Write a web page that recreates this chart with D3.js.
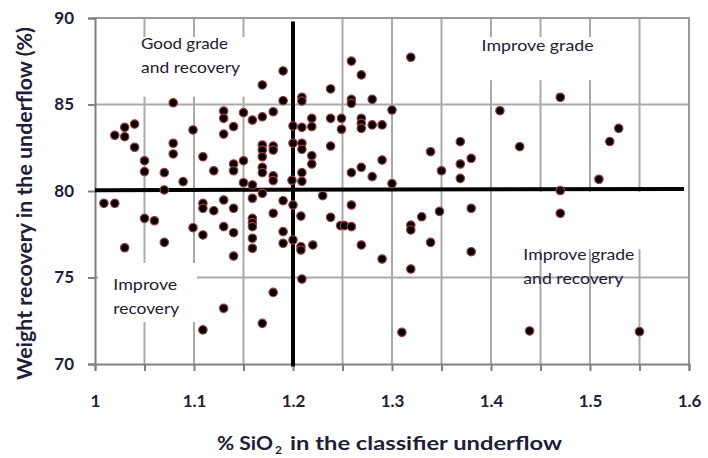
<!DOCTYPE html>
<html>
<head>
<meta charset="utf-8">
<script src="https://cdn.jsdelivr.net/npm/d3@7"></script>
<style>
  html, body { margin: 0; padding: 0; background: #fff; }
  svg { display: block; }
</style>
</head>
<body>
<div id="chart"></div>
<script>
// Scatter of weight recovery vs SiO2 in the classifier underflow, split in four quadrants

// % SiO2 in the underflow
const sio2 = [
  1.169, 1.079, 1.130, 1.130, 1.150, 1.159, 1.169, 1.040, 1.030, 1.020,
  1.030, 1.099, 1.140, 1.130, 1.040, 1.079, 1.079, 1.109, 1.050, 1.050,
  1.070, 1.120, 1.140, 1.140, 1.150, 1.169, 1.169, 1.169, 1.169, 1.169,
  1.089, 1.150, 1.159, 1.070, 1.190, 1.180, 1.190, 1.180, 1.180, 1.180,
  1.180, 1.200, 1.209, 1.200, 1.209, 1.209, 1.199, 1.209, 1.209, 1.209,
  1.209, 1.219, 1.219, 1.219, 1.219, 1.238, 1.238, 1.238, 1.249, 1.249,
  1.259, 1.259, 1.259, 1.269, 1.269, 1.269, 1.269, 1.280, 1.280, 1.290,
  1.259, 1.269, 1.280, 1.290, 1.300, 1.300, 1.319, 1.339, 1.350, 1.369,
  1.369, 1.380, 1.369, 1.409, 1.429, 1.470, 1.509, 1.520, 1.529, 1.470,
  1.470, 1.550, 1.009, 1.020, 1.050, 1.060, 1.030, 1.070, 1.109, 1.109,
  1.120, 1.130, 1.140, 1.169, 1.159, 1.099, 1.109, 1.130, 1.140, 1.159,
  1.159, 1.159, 1.159, 1.159, 1.140, 1.130, 1.109, 1.169, 1.180, 1.190,
  1.200, 1.208, 1.190, 1.190, 1.200, 1.208, 1.208, 1.220, 1.209, 1.180,
  1.230, 1.238, 1.248, 1.252, 1.259, 1.259, 1.269, 1.290, 1.319, 1.319,
  1.330, 1.339, 1.319, 1.348, 1.310, 1.380, 1.380, 1.439
];

// weight recovery in the underflow (%)
const recovery = [
  86.13, 85.10, 84.62, 84.20, 84.53, 84.10, 84.29, 83.87, 83.68, 83.22,
  83.14, 83.53, 83.72, 83.29, 82.53, 82.76, 82.14, 81.98, 81.75, 81.12,
  81.06, 81.17, 81.56, 81.17, 81.75, 82.66, 82.37, 81.98, 81.37, 81.06,
  80.54, 80.48, 80.35, 80.06, 86.94, 84.58, 85.22, 82.60, 82.37, 80.88,
  80.60, 83.76, 83.68, 82.76, 82.76, 82.41, 80.62, 81.06, 80.56, 85.42,
  85.20, 84.20, 83.72, 82.04, 81.56, 85.90, 84.20, 82.60, 84.20, 83.57,
  87.51, 85.30, 85.07, 86.71, 84.20, 83.91, 83.62, 85.30, 83.82, 83.82,
  81.06, 81.37, 80.83, 81.79, 84.68, 80.43, 87.73, 82.27, 81.17, 82.85,
  81.56, 81.89, 80.73, 84.64, 82.56, 85.42, 80.68, 82.86, 83.62, 80.03,
  78.71, 71.87, 79.29, 79.29, 78.42, 78.28, 76.72, 77.03, 79.29, 79.00,
  78.86, 79.48, 79.00, 79.87, 79.58, 77.88, 77.46, 77.94, 77.59, 78.42,
  78.17, 77.94, 77.27, 76.69, 76.24, 73.22, 71.97, 72.35, 78.71, 79.44,
  79.19, 78.55, 77.65, 76.98, 77.17, 76.78, 76.59, 76.88, 74.91, 74.14,
  79.73, 78.48, 78.00, 78.00, 79.19, 77.94, 76.88, 76.07, 78.03, 77.75,
  78.51, 77.03, 75.49, 78.82, 71.83, 79.00, 76.49, 71.91
];

// axis ticks
const xTicks = [1, 1.05, 1.1, 1.15, 1.2, 1.25, 1.3, 1.35, 1.4, 1.45, 1.5, 1.55, 1.6];
const xLabels = [1, 1.1, 1.2, 1.3, 1.4, 1.5, 1.6];
const yTicks = [70, 75, 80, 85, 90];
const xGrid = [1.05, 1.1, 1.15, 1.25, 1.3, 1.35, 1.4, 1.45, 1.5, 1.55];
const yGrid = [75, 85];

// the two thick dividing lines
const splitSio2 = 1.2;
const splitRecovery = [80.05, 80.12];

// quadrant notes
const notes = [
  { x: 1.0465, y: 88.2, lines: ['Good grade', 'and recovery'], widths: [87, 99] },
  { x: 1.3905, y: 88.1, lines: ['Improve grade'], widths: [112] },
  { x: 1.4327, y: 76.0, lines: ['Improve grade', 'and recovery'], widths: [111, 100] },
  { x: 1.0185, y: 74.25, lines: ['Improve', 'recovery'], widths: [64, 66] }
];
// white boxes behind the notes: [x0, y0, x1, y1] in data units
const noteBoxes = [
  [1.0051, 88.9, 1.1919, 85.45],
  [1.3636, 88.9, 1.5404, 86.41],
  [1.4172, 79.94, 1.5828, 76.64],
  [1.0031, 75.84, 1.1030, 72.43]
];

const width = 708;
const height = 458;

const x = d3.scaleLinear().domain([1, 1.6]).range([95, 689]);
const y = d3.scaleLinear().domain([70, 90]).range([364, 18]);

const svg = d3.select('#chart').append('svg')
  .attr('width', width)
  .attr('height', height);

const gridColor = '#a9a9a9';
const axisColor = '#808080';
const textColor = '#1e2038';

// gridlines
const grid = svg.append('g').attr('class', 'grid');

grid.selectAll('line.vgrid')
  .data(xGrid)
  .join('line')
  .attr('class', 'vgrid')
  .attr('x1', d => x(d)).attr('x2', d => x(d))
  .attr('y1', y(90)).attr('y2', y(70))
  .attr('stroke', gridColor)
  .attr('stroke-width', 2);

grid.selectAll('line.hgrid')
  .data(yGrid)
  .join('line')
  .attr('class', 'hgrid')
  .attr('x1', x(1)).attr('x2', x(1.6))
  .attr('y1', d => y(d)).attr('y2', d => y(d))
  .attr('stroke', gridColor)
  .attr('stroke-width', 2);

// frame: top and right
svg.append('path')
  .attr('d', `M${x(1)},${y(90)}H${x(1.6)}V${y(70)}`)
  .attr('fill', 'none')
  .attr('stroke', '#999')
  .attr('stroke-width', 2);

// white boxes that hide the grid behind the notes
svg.append('g')
  .selectAll('rect')
  .data(noteBoxes)
  .join('rect')
  .attr('x', d => x(d[0]))
  .attr('y', d => y(d[1]))
  .attr('width', d => x(d[2]) - x(d[0]))
  .attr('height', d => y(d[3]) - y(d[1]))
  .attr('fill', '#fff');

// axes
const xAxis = d3.axisBottom(x)
  .tickValues(xTicks)
  .tickSize(7)
  .tickPadding(24)
  .tickFormat(d => xLabels.some(v => Math.abs(v - d) < 1e-9) ? d3.format('')(+d.toFixed(1)) : '');

const gx = svg.append('g')
  .attr('transform', `translate(0,${y(70)})`)
  .call(xAxis);

const yAxis = d3.axisLeft(y)
  .tickValues(yTicks)
  .tickSize(7)
  .tickPadding(14)
  .tickFormat(d3.format('d'));

const gy = svg.append('g')
  .attr('transform', `translate(${x(1)},0)`)
  .call(yAxis);

[gx, gy].forEach(g => {
  g.select('.domain').attr('stroke', axisColor).attr('stroke-width', 2);
  g.selectAll('.tick line').attr('stroke', axisColor).attr('stroke-width', 2);
  g.selectAll('.tick text')
    .attr('fill', textColor)
    .style('font-family', 'Lato, "Open Sans", sans-serif')
    .style('font-weight', 'bold')
    .style('font-size', '17px');
});

// thick dividing lines
svg.append('line')
  .attr('x1', x(splitSio2)).attr('x2', x(splitSio2))
  .attr('y1', y(89.8)).attr('y2', y(69.85))
  .attr('stroke', '#000')
  .attr('stroke-width', 4);

svg.append('line')
  .attr('x1', x(1)).attr('x2', x(1.595))
  .attr('y1', y(splitRecovery[0])).attr('y2', y(splitRecovery[1]))
  .attr('stroke', '#000')
  .attr('stroke-width', 4);

// quadrant notes
notes.forEach(n => {
  n.lines.forEach((line, i) => {
    svg.append('text')
      .attr('x', x(n.x))
      .attr('y', y(n.y) + i * 24)
      .attr('textLength', n.widths[i])
      .attr('lengthAdjust', 'spacingAndGlyphs')
      .attr('fill', textColor)
      .style('font-family', 'Lato, "Open Sans", sans-serif')
      .style('font-size', '15px')
      .text(line);
  });
});

// points
const points = sio2.map((d, i) => ({ x: d, y: recovery[i] }));

svg.append('g')
  .selectAll('circle')
  .data(points)
  .join('circle')
  .attr('cx', d => x(d.x))
  .attr('cy', d => y(d.y))
  .attr('r', 4.2)
  .attr('fill', '#000')
  .attr('stroke', '#a33a3a')
  .attr('stroke-width', 1.2);

// axis titles
const titleFont = 'Lato, "Open Sans", sans-serif';

svg.append('text')
  .attr('x', 217).attr('y', 450)
  .attr('textLength', 56).attr('lengthAdjust', 'spacingAndGlyphs')
  .attr('fill', textColor)
  .style('font-family', titleFont).style('font-weight', 'bold').style('font-size', '19px')
  .text('% SiO');

svg.append('text')
  .attr('x', 275).attr('y', 454)
  .attr('fill', textColor)
  .style('font-family', titleFont).style('font-weight', 'bold').style('font-size', '12px')
  .text('2');

svg.append('text')
  .attr('x', 290).attr('y', 450)
  .attr('textLength', 272).attr('lengthAdjust', 'spacingAndGlyphs')
  .attr('fill', textColor)
  .style('font-family', titleFont).style('font-weight', 'bold').style('font-size', '19px')
  .text('in the classifier underflow');

svg.append('text')
  .attr('transform', 'translate(32,380) rotate(-90)')
  .attr('textLength', 353).attr('lengthAdjust', 'spacingAndGlyphs')
  .attr('fill', textColor)
  .style('font-family', titleFont).style('font-weight', 'bold').style('font-size', '20px')
  .text('Weight recovery in the underflow (%)');

console.log('scatter drawn:', points.length, 'points');
</script>
</body>
</html>
